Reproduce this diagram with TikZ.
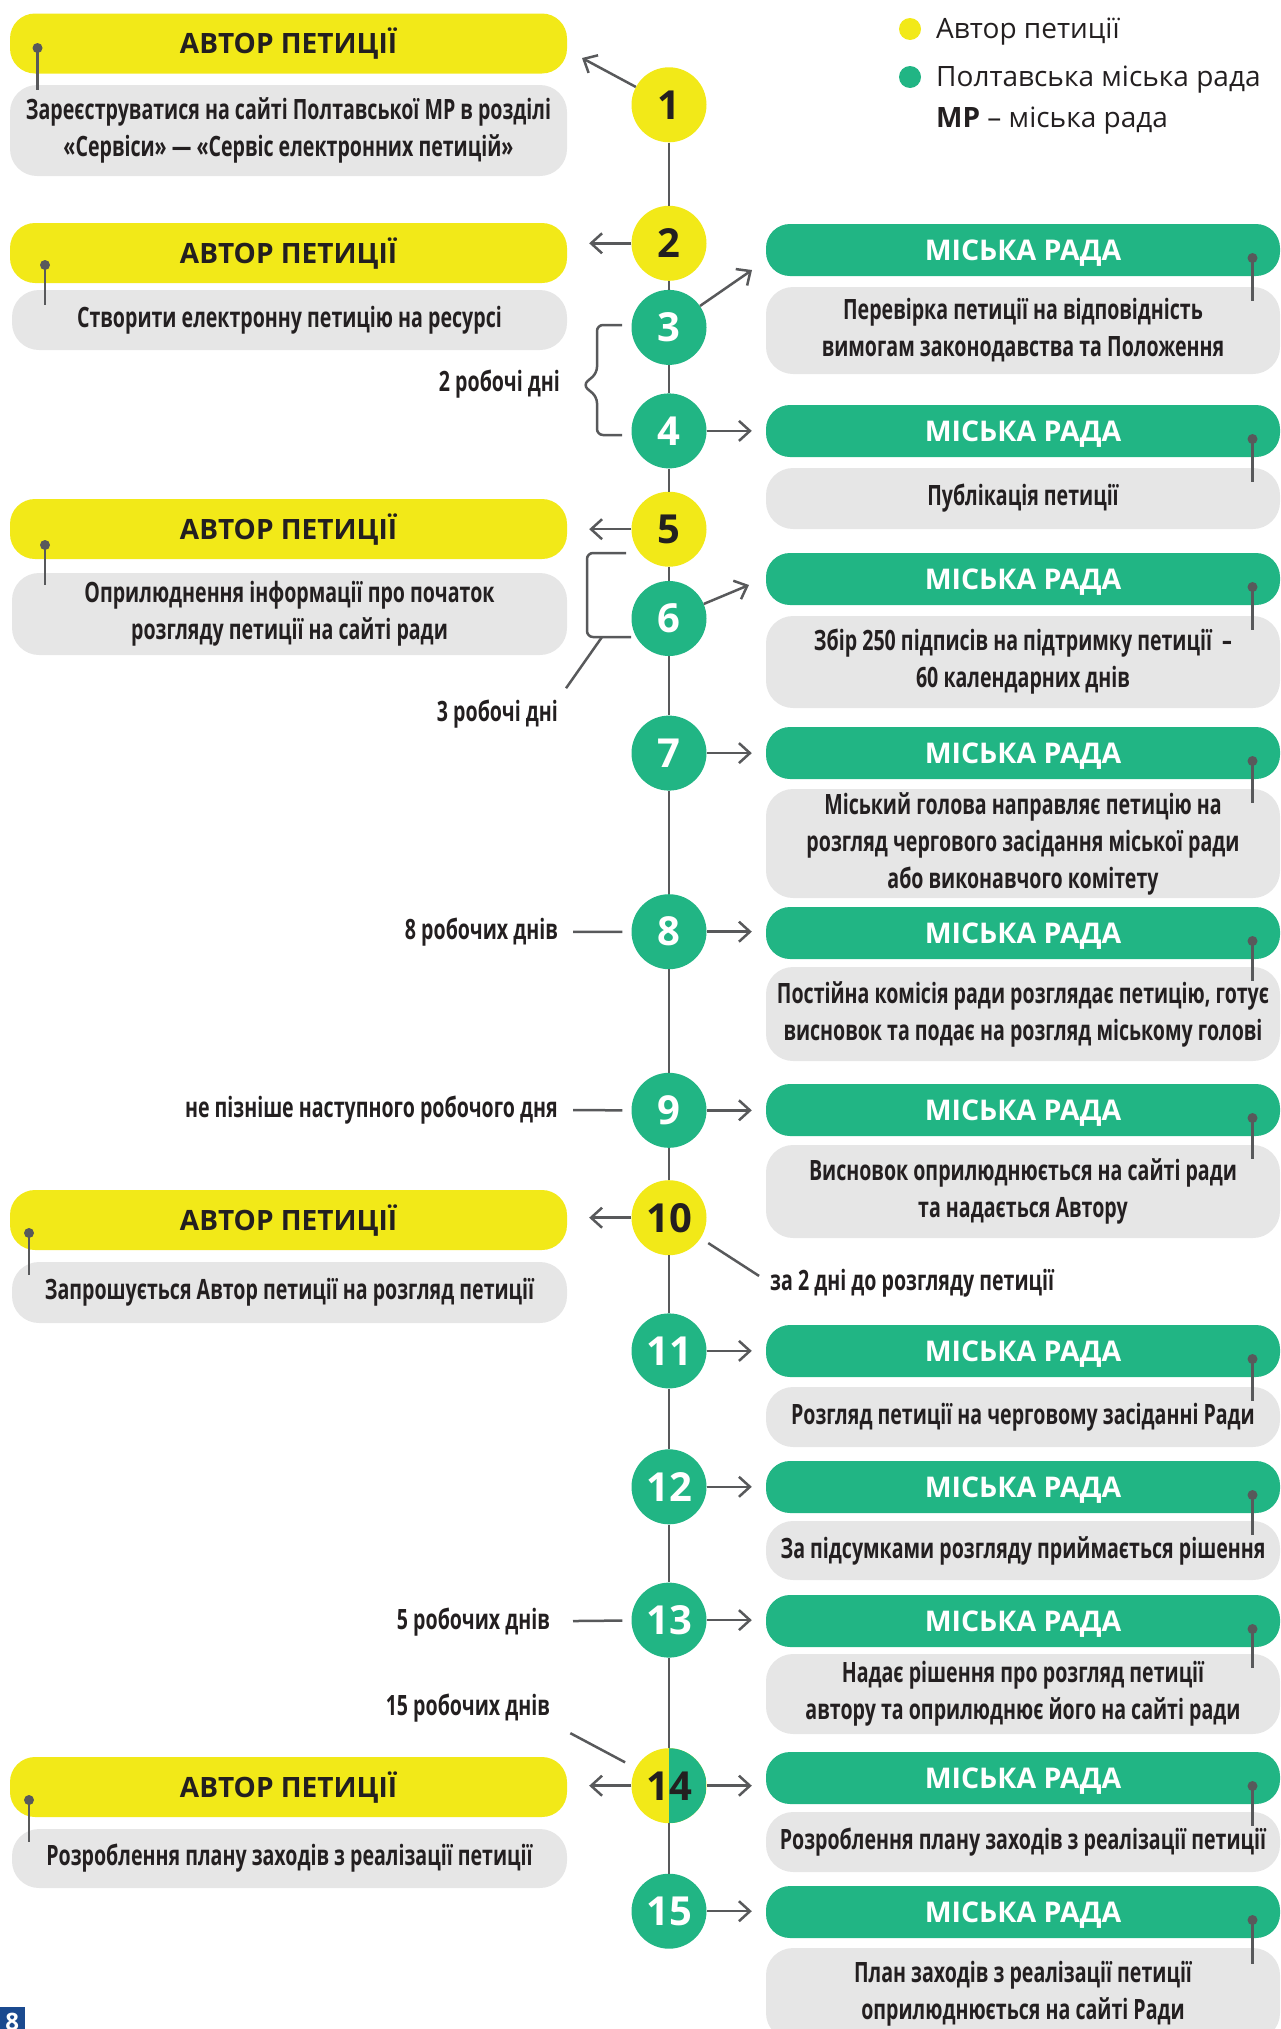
\documentclass[tikz,border=0pt]{standalone}
\usepackage{fontspec}
\setmainfont{Open Sans}
\newfontfamily\headfont{Open Sans}
\newfontfamily\condfont[FakeStretch=0.70]{Open Sans}
\usepackage{tikz}
\usetikzlibrary{arrows.meta}
\usetikzlibrary{calc}
\tikzset{>={Straight Barb[length=11pt,width=20pt]}}

\definecolor{authyellow}{HTML}{F2E918}
\definecolor{radagreen}{HTML}{21B584}
\definecolor{boxgray}{HTML}{E6E6E6}
\definecolor{linegray}{HTML}{58595B}
\definecolor{txt}{HTML}{231F20}
\definecolor{pageblue}{HTML}{1B4A8F}

\tikzset{
  stepcirc/.style={circle, minimum size=75pt, inner sep=0pt, font={\fontsize{40}{44}\headfont\bfseries}},
  yellowstep/.style={stepcirc, fill=authyellow, text=txt},
  greenstep/.style={stepcirc, fill=radagreen, text=white},
  authhead/.style={fill=authyellow, rounded corners=25pt, minimum width=557pt, minimum height=60pt, inner sep=0pt, text height=20pt, text depth=0pt, text=txt, font={\fontsize{28}{30}\headfont\bfseries}},
  radahead/.style={fill=radagreen, rounded corners=24pt, minimum width=514pt, minimum height=52pt, inner sep=0pt, text height=20pt, text depth=0pt, text=white, font={\fontsize{28.5}{30}\headfont\bfseries}},
  infobox/.style={fill=boxgray, rounded corners=27pt, inner sep=0pt, align=center, text=txt, font={\fontsize{28}{37}\condfont\bfseries}},
  daylabel/.style={inner sep=0pt, anchor=east, text=txt, font={\fontsize{28}{30}\condfont\bfseries}},
  legtext/.style={inner sep=0pt, anchor=west, text=txt, font={\fontsize{28}{30}\selectfont}},
  link/.style={linegray, line width=2.5pt},
  pointer/.style={link, ->}
}

\newcommand{\boxpin}[3]{%
  \draw[linegray, line width=2.5pt] (#1,#2) -- (#1,#3);
  \fill[linegray] (#1,#2) circle (5pt);}

\begin{document}
\begin{tikzpicture}[x=1pt, y=-1pt]
    \useasboundingbox (0,0) rectangle (1281,2029);
    \clip (0,0) rectangle (1281,2029);

    % legend
    \node[circle, fill=authyellow, minimum size=22pt, inner sep=0pt] (legauth) at (910,29) {};
    \node[legtext] (legauthtxt) at (936,32) {Автор петиції};
    \node[circle, fill=radagreen, minimum size=22pt, inner sep=0pt] (legrada) at (910,77) {};
    \node[legtext] (legradatxt) at (936,80) {Полтавська міська рада};
    \node[legtext] (legmr) at (936,121) {\textbf{МР} – міська рада};

    % steps
    \node[yellowstep] (c1) at (669,104.8) {1};
    \node[yellowstep] (c2) at (669,243.3) {2};
    \node[greenstep] (c3) at (669,327.4) {3};
    \node[greenstep] (c4) at (669,430.9) {4};
    \node[yellowstep] (c5) at (669,529.2) {5};
    \node[greenstep] (c6) at (669,618.5) {6};
    \node[greenstep] (c7) at (669,753.1) {7};
    \node[greenstep] (c8) at (669,931.7) {8};
    \node[greenstep] (c9) at (669,1110.3) {9};
    \node[yellowstep] (c10) at (669,1217.7) {10};
    \node[greenstep] (c11) at (669,1350.9) {11};
    \node[greenstep] (c12) at (669,1486.8) {12};
    \node[greenstep] (c13) at (669,1620.1) {13};
    \node[yellowstep, path picture={\fill[radagreen] (path picture bounding box.south) rectangle (path picture bounding box.north east);}] (c14) at (669,1785.7) {14};
    \node[greenstep] (c15) at (669,1911.2) {15};

    \draw[link] (c1) -- (c2) (c2) -- (c3) (c3) -- (c4) (c4) -- (c5) (c5) -- (c6)
      (c6) -- (c7) (c7) -- (c8) (c8) -- (c9) (c9) -- (c10) (c10) -- (c11)
      (c11) -- (c12) (c12) -- (c13) (c13) -- (c14) (c14) -- (c15);

    % author of the petition
    \node[authhead] (auth1) at (288.5,43.5) {АВТОР ПЕТИЦІЇ};
    \node[infobox, minimum width=557pt, minimum height=91pt] (authtxt1) at (288.5,130.5) {Зареєструватися на сайті Полтавської МР в розділі\\«Сервіси» — «Сервіс електронних петицій»};
    \node[authhead] (auth2) at (288.5,253) {АВТОР ПЕТИЦІЇ};
    \node[infobox, minimum width=555pt, minimum height=60pt] (authtxt2) at (289.5,320) {Створити електронну петицію на ресурсі};
    \node[authhead] (auth5) at (288.5,529) {АВТОР ПЕТИЦІЇ};
    \node[infobox, minimum width=555pt, minimum height=82pt] (authtxt5) at (289.5,614) {Оприлюднення інформації про початок\\розгляду петиції на сайті ради};
    \node[authhead] (auth10) at (288.5,1220) {АВТОР ПЕТИЦІЇ};
    \node[infobox, minimum width=555pt, minimum height=61pt] (authtxt10) at (289.5,1292.5) {Запрошується Автор петиції на розгляд петиції};
    \node[authhead] (auth14) at (288.5,1787) {АВТОР ПЕТИЦІЇ};
    \node[infobox, minimum width=555pt, minimum height=59pt] (authtxt14) at (289.5,1858.5) {Розроблення плану заходів з реалізації петиції};

    \boxpin{37.5}{48}{90}
    \boxpin{45}{265}{305}
    \boxpin{45}{545}{585}
    \boxpin{29}{1233}{1275}
    \boxpin{29}{1800}{1842}

    % city council
    \node[radahead] (rada3) at (1023,250) {МІСЬКА РАДА};
    \node[infobox, minimum width=514pt, minimum height=87pt] (radatxt3) at (1023,330.5) {Перевірка петиції на відповідність\\вимогам законодавства та Положення};
    \node[radahead] (rada4) at (1023,431) {МІСЬКА РАДА};
    \node[infobox, minimum width=514pt, minimum height=61pt] (radatxt4) at (1023,498.5) {Публікація петиції};
    \node[radahead] (rada6) at (1023,579) {МІСЬКА РАДА};
    \node[infobox, minimum width=514pt, minimum height=92pt] (radatxt6) at (1023,662) {Збір 250 підписів на підтримку петиції~~–\\60 календарних днів};
    \node[radahead] (rada7) at (1023,753) {МІСЬКА РАДА};
    \node[infobox, minimum width=514pt, minimum height=109pt] (radatxt7) at (1023,843.5) {Міський голова направляє петицію на\\розгляд чергового засідання міської ради\\або виконавчого комітету};
    \node[radahead] (rada8) at (1023,933) {МІСЬКА РАДА};
    \node[infobox, minimum width=514pt, minimum height=94pt] (radatxt8) at (1023,1014) {Постійна комісія ради розглядає петицію, готує\\висновок та подає на розгляд міському голові};
    \node[radahead] (rada9) at (1023,1110) {МІСЬКА РАДА};
    \node[infobox, minimum width=514pt, minimum height=93pt] (radatxt9) at (1023,1191.5) {Висновок оприлюднюється на сайті ради\\та надається Автору};
    \node[radahead] (rada11) at (1023,1351) {МІСЬКА РАДА};
    \node[infobox, minimum width=514pt, minimum height=60pt] (radatxt11) at (1023,1417) {Розгляд петиції на черговому засіданні Ради};
    \node[radahead] (rada12) at (1023,1487) {МІСЬКА РАДА};
    \node[infobox, minimum width=514pt, minimum height=59pt] (radatxt12) at (1023,1550.5) {За підсумками розгляду приймається рішення};
    \node[radahead] (rada13) at (1023,1621) {МІСЬКА РАДА};
    \node[infobox, minimum width=514pt, minimum height=80pt] (radatxt13) at (1023,1694) {Надає рішення про розгляд петиції\\автору та оприлюднює його на сайті ради};
    \node[radahead] (rada14) at (1023,1778) {МІСЬКА РАДА};
    \node[infobox, minimum width=514pt, minimum height=60pt] (radatxt14) at (1023,1842) {Розроблення плану заходів з реалізації петиції};
    \node[radahead] (rada15) at (1023,1912) {МІСЬКА РАДА};
    \node[infobox, minimum width=514pt, minimum height=92pt] (radatxt15) at (1023,1994) {План заходів з реалізації петиції\\оприлюднюється на сайті Ради};

    \boxpin{1252.5}{258}{301}
    \boxpin{1252.5}{439}{482}
    \boxpin{1252.5}{587}{630}
    \boxpin{1252.5}{761}{803}
    \boxpin{1252.5}{941}{981}
    \boxpin{1252.5}{1118}{1159}
    \boxpin{1252.5}{1359}{1401}
    \boxpin{1252.5}{1495}{1535}
    \boxpin{1252.5}{1629}{1668}
    \boxpin{1252.5}{1786}{1826}
    \boxpin{1252.5}{1920}{1964}

    % arrows from the steps
    \coordinate (tip1) at (582,58);
    \coordinate (tip3) at (752,270);
    \coordinate (tip6) at (749,585);
    \draw[pointer] (c1) -- (tip1);
    \draw[pointer, shorten >=22pt] (c2) -- (c2 -| auth2.east);
    \draw[pointer] (c3) -- (tip3);
    \draw[pointer, shorten >=14pt] (c4) -- (c4 -| rada4.west);
    \draw[pointer, shorten >=22pt] (c5) -- (c5 -| auth5.east);
    \draw[pointer] (c6) -- (tip6);
    \draw[pointer, shorten >=14pt] (c7) -- (c7 -| rada7.west);
    \draw[pointer, shorten >=14pt] (c8) -- (c8 -| rada8.west);
    \draw[pointer, shorten >=14pt] (c9) -- (c9 -| rada9.west);
    \draw[pointer, shorten >=22pt] (c10) -- (c10 -| auth10.east);
    \draw[pointer, shorten >=14pt] (c11) -- (c11 -| rada11.west);
    \draw[pointer, shorten >=14pt] (c12) -- (c12 -| rada12.west);
    \draw[pointer, shorten >=14pt] (c13) -- (c13 -| rada13.west);
    \draw[pointer, shorten >=22pt] (c14) -- (c14 -| auth14.east);
    \draw[pointer, shorten >=14pt] (c14) -- (c14 -| rada14.west);
    \draw[pointer, shorten >=14pt] (c15) -- (c15 -| rada15.west);

    % terms
    \node[daylabel] (days34) at (560,384) {2 робочі дні};
    \node[daylabel] (days56) at (558,714) {3 робочі дні};
    \node[daylabel] (days8) at (558,932) {8 робочих днів};
    \node[daylabel] (days9) at (558,1110) {не пізніше наступного робочого дня};
    \node[daylabel, anchor=west] (days10) at (770,1283) {за 2 дні до розгляду петиції};
    \node[daylabel] (days13) at (550,1622) {5 робочих днів};
    \node[daylabel] (days14) at (550,1708) {15 робочих днів};

    \draw[link, rounded corners=6pt] (622,325) -- (597,325) -- (597,373) -- (583,385) -- (597,397) -- (597,435) -- (622,435);
    \draw[link, rounded corners=6pt] (626,553) -- (587,553) -- (587,637) -- (631,637);
    \coordinate (br56) at (602,637);
    \draw[link, shorten >=14pt] (br56) -- (days56.north east);
    \draw[link, shorten <=15pt, shorten >=9pt] (days8) -- (c8);
    \draw[link, shorten <=15pt, shorten >=9pt] (days9) -- (c9);
    \draw[link, shorten <=9pt, shorten >=13pt] (c10) -- (days10.west);
    \draw[link, shorten <=23pt, shorten >=9pt] (days13) -- (c13);
    \draw[link, shorten <=23pt, shorten >=12pt] (days14.south east) -- (c14);

    % page number
    \node[fill=pageblue, text=white, minimum width=25pt, minimum height=30pt, inner sep=0pt, anchor=north east, font={\fontsize{24}{26}\headfont\bfseries}] (pagenum) at (25,2007) {8};
  \end{tikzpicture}
\end{document}
